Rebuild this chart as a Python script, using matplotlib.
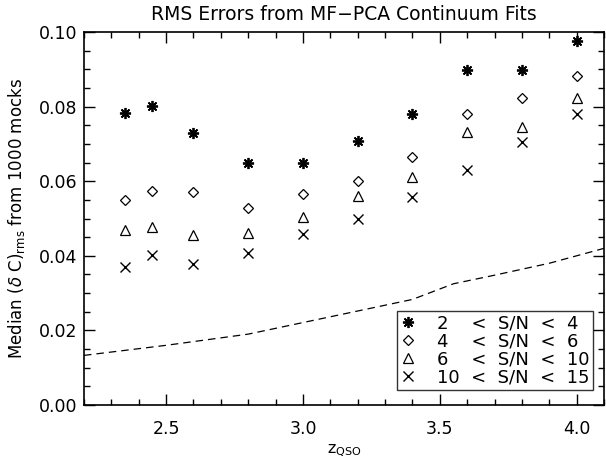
import numpy as np
import matplotlib
matplotlib.use("Agg")
import matplotlib.pyplot as plt
from matplotlib.ticker import MultipleLocator

# redshift bins
z_qso = [2.35, 2.45, 2.6, 2.8, 3.0, 3.2, 3.4, 3.6, 3.8, 4.0]

# median rms continuum errors for each S/N bin
sn_2_4 = [0.0783, 0.0802, 0.0730, 0.0648, 0.0648, 0.0708, 0.0779, 0.0899, 0.0899, 0.0976]
sn_4_6 = [0.0550, 0.0575, 0.0570, 0.0527, 0.0566, 0.0600, 0.0665, 0.0779, 0.0824, 0.0883]
sn_6_10 = [0.0469, 0.0476, 0.0456, 0.0462, 0.0505, 0.0559, 0.0611, 0.0732, 0.0746, 0.0824]
sn_10_15 = [0.0370, 0.0402, 0.0379, 0.0408, 0.0458, 0.0498, 0.0557, 0.0629, 0.0704, 0.0779]

# dashed reference curve
z_curve = [2.2, 2.5, 2.8, 3.0, 3.2, 3.4, 3.55, 3.7, 3.9, 4.1]
err_curve = [0.0133, 0.0160, 0.0190, 0.0221, 0.0252, 0.0283, 0.0325, 0.0348, 0.0380, 0.0420]

labels = ["2\u2007  <  S/N  <  4", "4\u2007  <  S/N  <  6",
          "6\u2007  <  S/N  <  10", "10  <  S/N  <  15"]

plt.rcParams['font.family'] = ['DejaVu Sans']

fig = plt.figure(figsize=(6.06, 4.62), dpi=100)
ax = fig.add_axes([84 / 606, 1 - 405 / 462, 520 / 606, 373 / 462])

ax.plot(z_curve, err_curve, color='black', ls=(0, (6, 4)), lw=0.9)

ax.plot(z_qso, sn_2_4, ls='none', marker=(8, 2, 0), ms=8, mec='black', mew=1.3,
        label=labels[0])
ax.plot(z_qso, sn_4_6, ls='none', marker='D', ms=5.5, mfc='none', mec='black', mew=0.9,
        label=labels[1])
ax.plot(z_qso, sn_6_10, ls='none', marker='^', ms=7, mfc='none', mec='black', mew=0.9,
        label=labels[2])
ax.plot(z_qso, sn_10_15, ls='none', marker='x', ms=7, mec='black', mew=1.0,
        label=labels[3])

ax.set_xlim(2.2, 4.1)
ax.set_ylim(0.0, 0.1)
ax.xaxis.set_major_locator(MultipleLocator(0.5))
ax.xaxis.set_minor_locator(MultipleLocator(0.1))
ax.yaxis.set_major_locator(MultipleLocator(0.02))
ax.yaxis.set_minor_locator(MultipleLocator(0.005))
ax.tick_params(which='both', direction='in', top=True, right=True, labelsize=12.5)
ax.tick_params(which='major', length=8, width=1)
ax.tick_params(which='minor', length=4, width=1)
ax.tick_params(axis='x', pad=11)
ax.tick_params(axis='y', pad=5)
ax.xaxis.set_major_formatter(plt.FormatStrFormatter('%.1f'))
ax.yaxis.set_major_formatter(plt.FormatStrFormatter('%.2f'))
for s in ax.spines.values():
    s.set_linewidth(1.2)

ax.set_title('RMS Errors from MF\u2212PCA Continuum Fits', fontsize=13.5, pad=9)
ax.set_xlabel(r'z$_{\rm QSO}$', fontsize=11.5, labelpad=3)
ax.set_ylabel(r'Median ($\delta$ C)$_{\rm rms}$ from 1000 mocks', fontsize=12, labelpad=8)

leg = ax.legend(loc='lower right', bbox_to_anchor=(0.979, 0.04), fontsize=13,
                frameon=True, fancybox=False, edgecolor='black', handlelength=0.8,
                handletextpad=1.2, borderpad=0.2, labelspacing=0.0, borderaxespad=0)
leg.get_frame().set_linewidth(1.0)

fig.savefig('out.png', dpi=100)
